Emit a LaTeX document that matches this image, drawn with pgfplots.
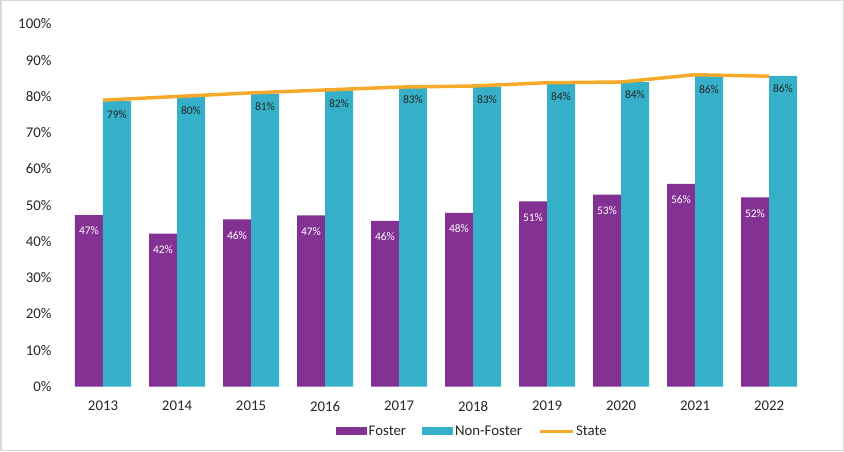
\documentclass[border=0pt]{standalone}
\usepackage{fontspec}
\setmainfont{Carlito}
\usepackage{pgfplots}
\pgfplotsset{compat=1.18}
\definecolor{foster}{HTML}{833192}
\definecolor{nonfoster}{HTML}{35B0C8}
\definecolor{statec}{HTML}{F6A92A}
\definecolor{framec}{HTML}{D9D9D9}
\definecolor{ticktext}{HTML}{262626}
\begin{document}
\begin{tikzpicture}
\path[use as bounding box] (0,0) rectangle (844pt,451pt);
\draw[framec, line width=1.5pt] (0.75pt,0.75pt) rectangle (843.25pt,450.25pt);
\begin{axis}[
  at={(66pt,64.5pt)}, anchor=south west,
  scale only axis, width=740pt, height=362.5pt,
  xmin=-0.5, xmax=9.5, ymin=0, ymax=100,
  axis x line=bottom, axis y line=left,
  axis line style={draw=none,-},
  major tick style={draw=none},
  xtick={0,...,9},
  xticklabels={2013,2014,2015,2016,2017,2018,2019,2020,2021,2022},
  ytick={0,10,...,100},
  yticklabel={\pgfmathprintnumber{\tick}\%},
  /pgf/number format/assume math mode=true,
  ticklabel style={font=\fontsize{14.8}{17}\selectfont, text=ticktext},
  yticklabel style={xshift=-9pt},
  xticklabel style={yshift=-9pt},
  legend columns=3,
  legend style={draw=none, at={(0.549,-0.1228)}, anchor=center,
    font=\fontsize{14.8}{17}\selectfont, text=ticktext,
    /tikz/every even column/.append style={column sep=14pt}},
  legend cell align=left,
]
\addplot[ybar, bar width=28pt, bar shift=-14pt, fill=foster, draw=none,
  area legend,
  legend image code/.code={\fill[foster] (0pt,-4pt) rectangle (31pt,4pt);},
  nodes near coords={\pgfmathprintnumber[fixed,precision=0]{\pgfplotspointmeta}\%},
  every node near coord/.append style={anchor=center, xshift=-14pt, yshift=-16pt, text=white, font=\fontsize{11.5}{13}\selectfont}]
coordinates {(0,47.3) (1,42.2) (2,46.1) (3,47.2) (4,45.7) (5,47.9) (6,51.1) (7,52.9) (8,55.9) (9,52.2)};
\addlegendentry{Foster}
\addplot[ybar, bar width=28pt, bar shift=14pt, fill=nonfoster, draw=none,
  area legend,
  legend image code/.code={\fill[nonfoster] (0pt,-4pt) rectangle (31pt,4pt);},
  nodes near coords={\pgfmathprintnumber[fixed,precision=0]{\pgfplotspointmeta}\%},
  every node near coord/.append style={anchor=center, xshift=14pt, yshift=-13pt, text=black!85, font=\fontsize{11.5}{13}\selectfont}]
coordinates {(0,78.7) (1,79.8) (2,80.8) (3,81.6) (4,82.6) (5,82.7) (6,83.6) (7,84.0) (8,85.6) (9,85.7)};
\addlegendentry{Non-Foster}
\addplot[statec, line width=3.5pt, mark=none,
  legend image code/.code={\draw[statec, line width=3pt] (0pt,0pt) -- (33pt,0pt);}]
coordinates {(0,79.0) (1,80.0) (2,81.0) (3,81.8) (4,82.6) (5,82.9) (6,83.8) (7,84.0) (8,86.0) (9,85.6)};
\addlegendentry{State}
\end{axis}
\end{tikzpicture}
\end{document}
